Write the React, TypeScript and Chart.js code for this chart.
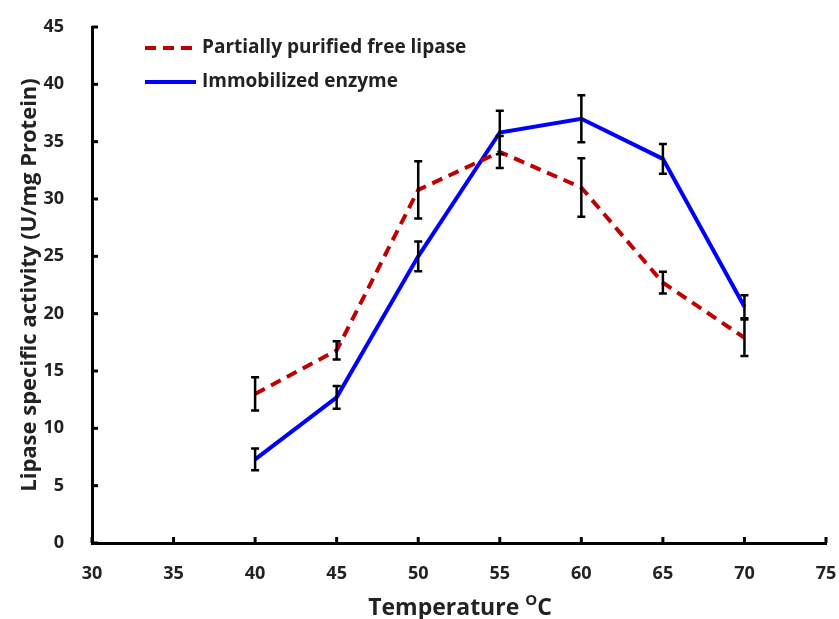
import React, { useEffect, useRef } from "react";
import { Chart, registerables } from "chart.js";

Chart.register(...registerables);

const temperatures = [40, 45, 50, 55, 60, 65, 70];
const freeLipase = [13.0, 16.8, 30.8, 34.1, 31.0, 22.7, 17.9];
const freeLipaseErr = [1.45, 0.8, 2.5, 1.4, 2.55, 0.95, 1.6];
const immobilized = [7.3, 12.7, 25.0, 35.8, 37.0, 33.5, 20.6];
const immobilizedErr = [0.95, 1.0, 1.3, 1.9, 2.05, 1.3, 1.0];
const seriesLabels = ["Partially purified free lipase", "Immobilized enzyme"];
const xTitle = ["Temperature ", "O", "C"];
const yTitle = "Lipase specific activity (U/mg Protein)";

const FONT = "'Open Sans', sans-serif";

export default function App() {
  const ref = useRef<HTMLCanvasElement>(null);

  useEffect(() => {
    document.body.style.margin = "0";
    const errors = [freeLipaseErr, immobilizedErr];

    const plugin = {
      id: "custom",
      afterDatasetsDraw(chart: any) {
        const ctx = chart.ctx;
        const xs = chart.scales.x;
        const ys = chart.scales.y;
        ctx.save();
        ctx.strokeStyle = "#000";
        ctx.lineWidth = 2.5;
        chart.data.datasets.forEach((ds: any, i: number) => {
          ds.data.forEach((p: any, j: number) => {
            const e = errors[i][j];
            const px = xs.getPixelForValue(p.x);
            const top = ys.getPixelForValue(p.y + e);
            const bot = ys.getPixelForValue(p.y - e);
            ctx.beginPath();
            ctx.moveTo(px, top);
            ctx.lineTo(px, bot);
            ctx.moveTo(px - 4, top);
            ctx.lineTo(px + 4, top);
            ctx.moveTo(px - 4, bot);
            ctx.lineTo(px + 4, bot);
            ctx.stroke();
          });
        });
        ctx.restore();
      },
      afterDraw(chart: any) {
        const ctx = chart.ctx;
        const xs = chart.scales.x;
        const ys = chart.scales.y;
        const area = chart.chartArea;
        ctx.save();
        ctx.strokeStyle = "#000";
        ctx.lineWidth = 3;
        xs.ticks.forEach((t: any) => {
          const px = xs.getPixelForValue(t.value);
          ctx.beginPath();
          ctx.moveTo(px, area.bottom);
          ctx.lineTo(px, area.bottom - 6);
          ctx.stroke();
        });
        ys.ticks.forEach((t: any) => {
          const py = ys.getPixelForValue(t.value);
          ctx.beginPath();
          ctx.moveTo(area.left, py);
          ctx.lineTo(area.left + 6, py);
          ctx.stroke();
        });
        // legend
        const legendY = [48, 82];
        chart.data.datasets.forEach((ds: any, i: number) => {
          ctx.beginPath();
          ctx.strokeStyle = ds.borderColor;
          ctx.lineWidth = 4;
          ctx.setLineDash(ds.borderDash || []);
          ctx.moveTo(145, legendY[i]);
          ctx.lineTo(196, legendY[i]);
          ctx.stroke();
          ctx.setLineDash([]);
          ctx.fillStyle = "#222";
          ctx.font = `bold 19px ${FONT}`;
          ctx.textBaseline = "middle";
          ctx.textAlign = "left";
          ctx.fillText(ds.label, 202, legendY[i]);
        });
        // x title with superscript
        ctx.fillStyle = "#222";
        ctx.textBaseline = "alphabetic";
        ctx.font = `bold 23px ${FONT}`;
        const w1 = ctx.measureText(xTitle[0]).width;
        ctx.font = `bold 15px ${FONT}`;
        const w2 = ctx.measureText(xTitle[1]).width;
        ctx.font = `bold 23px ${FONT}`;
        const w3 = ctx.measureText(xTitle[2]).width;
        const total = w1 + w2 + w3;
        const cx = 460;
        let sx = cx - total / 2;
        const base = 615;
        ctx.fillText(xTitle[0], sx, base);
        sx += w1;
        ctx.font = `bold 15px ${FONT}`;
        ctx.fillText(xTitle[1], sx, base - 10);
        sx += w2;
        ctx.font = `bold 23px ${FONT}`;
        ctx.fillText(xTitle[2], sx, base);
        // y title
        ctx.save();
        ctx.translate(30, 285);
        ctx.rotate(-Math.PI / 2);
        ctx.textAlign = "center";
        ctx.textBaseline = "middle";
        ctx.font = `bold 22px ${FONT}`;
        ctx.fillText(yTitle, 0, 0);
        ctx.restore();
        ctx.restore();
      },
    };

    const chart = new Chart(ref.current!, {
      type: "line",
      data: {
        datasets: [
          {
            label: seriesLabels[0],
            data: temperatures.map((t, i) => ({ x: t, y: freeLipase[i] })),
            borderColor: "#C00000",
            borderWidth: 4,
            borderDash: [11, 7],
            pointRadius: 0,
            fill: false,
            tension: 0,
          },
          {
            label: seriesLabels[1],
            data: temperatures.map((t, i) => ({ x: t, y: immobilized[i] })),
            borderColor: "#0000FF",
            borderWidth: 4,
            pointRadius: 0,
            fill: false,
            tension: 0,
          },
        ],
      },
      options: {
        animation: false,
        responsive: false,
        devicePixelRatio: 1,
        layout: { padding: { top: 27, right: 13, left: 0, bottom: 0 } },
        plugins: { legend: { display: false }, tooltip: { enabled: false } },
        scales: {
          x: {
            type: "linear",
            min: 30,
            max: 75,
            ticks: {
              stepSize: 5,
              color: "#222",
              padding: 12,
              font: { family: FONT, size: 18, weight: "bold" },
              maxRotation: 0,
            },
            grid: { display: false },
            border: { display: true, color: "#000", width: 3 },
            afterFit: (s: any) => {
              s.height = 76;
              s.paddingLeft = 0;
              s.paddingRight = 0;
            },
          },
          y: {
            min: 0,
            max: 45,
            ticks: {
              stepSize: 5,
              color: "#222",
              padding: 20,
              font: { family: FONT, size: 18, weight: "bold" },
            },
            grid: { display: false },
            border: { display: true, color: "#000", width: 3 },
            afterFit: (s: any) => {
              s.width = 92;
              s.paddingTop = 0;
              s.paddingBottom = 0;
            },
          },
        },
      },
      plugins: [plugin],
    });
    return () => chart.destroy();
  }, []);

  return (
    <div style={{ width: 839, height: 619 }}>
      <canvas ref={ref} width={839} height={619} style={{ display: "block" }} />
    </div>
  );
}
